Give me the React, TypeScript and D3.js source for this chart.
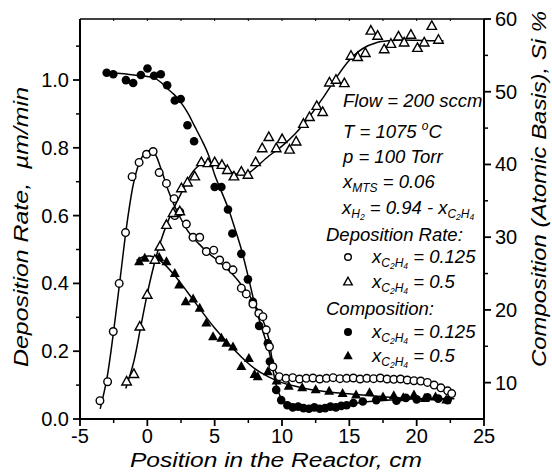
import React from "react";
import * as d3 from "d3";

// ---------- data ----------
// Deposition rate, x_C2H4 = 0.125 (open circles, left axis, µm/min)
const depCircleX = [-3.52,-2.95,-2.53,-2.09,-1.62,-1.13,-0.61,-0.06,0.43,0.88,1.42,1.99,2.04,2.41,2.9,3.39,3.89,4.38,4.93,5.37,5.87,6.36,6.98,7.35,7.84,8.28,8.58,8.83,9.07,9.32,9.8,10.3,10.8,11.3,11.8,12.3,12.8,13.3,13.8,14.3,14.8,15.3,15.8,16.3,16.8,17.3,17.8,18.3,18.8,19.3,19.8,20.3,20.8,21.3,21.8,22.3,22.6];
const depCircleY = [0.054,0.11,0.258,0.40,0.55,0.715,0.757,0.781,0.789,0.727,0.695,0.65,0.60,0.611,0.575,0.536,0.536,0.494,0.498,0.469,0.451,0.44,0.386,0.369,0.339,0.312,0.302,0.263,0.213,0.154,0.125,0.12,0.122,0.118,0.12,0.121,0.118,0.12,0.122,0.119,0.12,0.121,0.118,0.12,0.119,0.121,0.118,0.117,0.118,0.115,0.113,0.112,0.108,0.1,0.092,0.083,0.075];

// Deposition rate, x_C2H4 = 0.5 (open triangles, left axis)
const depTriX = [-1.54,-1.0,-0.56,-0.01,0.56,0.93,1.42,1.91,2.41,2.53,2.98,3.52,4.01,4.5,5.0,5.54,5.94,6.43,6.98,7.47,8.04,8.53,9.02,9.57,10.01,10.56,11.05,11.59,12.04,12.58,13.02,13.52,14.01,14.63,15.12,15.62,16.19,16.6,17.1,17.59,18.09,18.65,19.07,19.57,20.06,20.56,21.12,21.62];
const depTriY = [0.11,0.132,0.272,0.366,0.469,0.508,0.572,0.607,0.612,0.68,0.697,0.715,0.757,0.754,0.757,0.749,0.734,0.715,0.729,0.72,0.757,0.798,0.831,0.798,0.825,0.794,0.818,0.87,0.89,0.923,0.905,0.992,1.0,0.99,1.071,1.067,1.079,1.145,1.13,1.09,1.106,1.128,1.11,1.133,1.094,1.11,1.159,1.118];

// Composition, x_C2H4 = 0.125 (filled circles, right axis, Si %)
const compCircleX = [-3.02,-2.53,-1.59,-1.05,-0.48,0.01,0.5,1.0,1.47,2.04,2.48,2.98,3.47,5.0,5.5,5.99,6.31,6.98,7.47,7.84,8.3,8.95,9.1,9.57,9.94,10.4,10.8,11.2,11.6,12.0,12.4,12.8,13.2,13.6,14.0,14.4,14.8,15.3,16.0,17.0,18.5,19.2,20.0,20.8,21.6,22.3];
const compCircleY = [52.6,52.4,51.6,51.2,52.3,53.2,52.2,52.4,50.9,48.8,49.0,45.4,43.2,36.9,36.9,33.8,30.5,27.7,24.2,21.1,17.8,15.4,12.9,9.0,7.6,6.9,6.6,6.7,6.5,6.4,6.6,6.4,6.5,6.7,6.6,6.8,6.9,7.2,7.4,7.6,7.5,7.9,7.7,8.0,7.8,7.6];

// Composition, x_C2H4 = 0.5 (filled triangles, right axis)
const compTriX = [-0.61,-0.19,0.88,1.42,2.04,2.36,2.85,3.4,3.89,4.38,4.88,5.5,5.87,6.36,6.98,7.54,7.96,8.2,8.95,9.6,10.5,11.5,12.5,13.5,14.5,15.5,16.5,17.5,18.3,19.0,19.8,20.6,21.4,22.2];
const compTriY = [26.6,27.1,27.2,26.6,25.0,23.4,21.1,21.5,20.2,18.2,16.3,16.1,15.4,14.9,12.2,13.3,11.1,10.8,11.5,10.2,9.5,9.3,9.0,8.8,8.5,8.3,8.6,8.0,8.2,7.9,8.3,7.8,8.0,7.6];

// Fitted curves
const fitDepCircleX = [-3.5,-3,-2.5,-2,-1.5,-1,-0.5,0,0.5,1,1.5,2,2.5,3,3.5,4,4.5,5,5.5,6,6.5,7,7.5,8,8.5,9,9.3,9.6,10,11,13,15,17,19,20,21,21.5,22,22.6];
const fitDepCircleY = [0.03,0.12,0.26,0.42,0.58,0.7,0.765,0.79,0.785,0.74,0.68,0.63,0.59,0.555,0.53,0.51,0.49,0.475,0.458,0.44,0.42,0.395,0.37,0.335,0.3,0.24,0.17,0.135,0.124,0.12,0.12,0.12,0.119,0.117,0.113,0.105,0.1,0.092,0.078];
const fitDepTriX = [-1.6,-1,-0.5,0,0.5,1,1.5,2,2.5,3,3.5,4,4.5,5,5.5,6,6.5,7,7.5,8,9,10,11,12,13,14,15,16,17,18,19,20,21,22];
const fitDepTriY = [0.09,0.17,0.27,0.37,0.455,0.525,0.58,0.625,0.665,0.705,0.735,0.752,0.755,0.75,0.742,0.732,0.724,0.72,0.725,0.74,0.775,0.805,0.842,0.89,0.945,1.005,1.058,1.093,1.11,1.116,1.118,1.117,1.116,1.115];
const fitCompCircleX = [-3.2,-2,-1,0,0.5,1,1.5,2,2.5,3,3.5,4,4.5,5,5.5,6,6.5,7,7.5,8,8.5,9,9.3,9.6,10,10.5,11,12,13,14,15,16,18,20,22.8];
const fitCompCircleY = [52.6,52.5,52.3,52.1,51.9,51.3,50.4,49.6,48.5,47.1,45.3,43.5,41.5,38.6,36.3,34.0,31.2,28.2,24.5,20.6,17.5,14.6,12.0,9.5,7.7,7.0,6.7,6.5,6.5,6.7,7.0,7.3,7.6,7.8,7.8];
const fitCompTriX = [-0.8,-0.3,0.2,0.7,1.2,2,3,4,5,6,7,8,9,10,11,12,14,16,18,20,22.6];
const fitCompTriY = [26.8,27.3,27.4,27.1,26.4,24.8,22.4,19.9,17.5,15.4,13.5,11.9,10.8,10.0,9.5,9.1,8.6,8.3,8.0,7.8,7.6];

// Axis ticks
const xTicks = [-5, 0, 5, 10, 15, 20, 25];
const xMinor = [-2.5, 2.5, 7.5, 12.5, 17.5, 22.5];
const yLeftTicks = [0, 0.2, 0.4, 0.6, 0.8, 1.0];
const yLeftMinor = [0.1, 0.3, 0.5, 0.7, 0.9, 1.1];
const yRightTicks = [10, 20, 30, 40, 50, 60];
const yRightMinor = [15, 25, 35, 45, 55];

const FONT = "'Liberation Sans', Arial, Helvetica, sans-serif";

type Seg = { t: string; l: number };
const OFF: Record<number, number> = { 0: 0, 1: 4, 2: 6, [-1]: -8 };
const SZ: Record<number, number> = { 0: 18.5, 1: 12, 2: 8.5, [-1]: 12 };

function Rich({ x, y, segs }: { x: number; y: number; segs: Seg[] }) {
  let cur = 0;
  return (
    <text x={x} y={y} fontFamily={FONT} fontStyle="italic" fontSize={18.5} style={{ whiteSpace: "pre" }}>
      {segs.map((s, i) => {
        const target = OFF[s.l];
        const dy = target - cur;
        cur = target;
        return (
          <tspan key={i} dy={dy} fontSize={SZ[s.l]}>
            {s.t}
          </tspan>
        );
      })}
    </text>
  );
}

const xC2H4: Seg[] = [
  { t: "x", l: 0 },
  { t: "C", l: 1 },
  { t: "2", l: 2 },
  { t: "H", l: 1 },
  { t: "4", l: 2 },
];

function triPath(cx: number, cy: number, s: number) {
  const h = s * 0.9;
  return `M${cx},${cy - h * 0.62}L${cx + s / 2},${cy + h * 0.38}L${cx - s / 2},${cy + h * 0.38}Z`;
}

export default function App() {
  const W = 552, H = 475;
  const x = d3.scaleLinear().domain([-5, 25]).range([80, 484]);
  const yL = d3.scaleLinear().domain([0, 1.18]).range([419, 19]);
  const yR = d3.scaleLinear().domain([5, 60]).range([419, 19]);

  const mk = (xs: number[], ys: number[], ys_: d3.ScaleLinear<number, number>) =>
    d3
      .line<[number, number]>()
      .x((d) => x(d[0]))
      .y((d) => ys_(d[1]))
      .curve(d3.curveCatmullRom.alpha(0.5))(xs.map((v, i) => [v, ys[i]] as [number, number])) || "";

  const paths = [
    mk(fitDepCircleX, fitDepCircleY, yL),
    mk(fitDepTriX, fitDepTriY, yL),
    mk(fitCompCircleX, fitCompCircleY, yR),
    mk(fitCompTriX, fitCompTriY, yR),
  ];

  const sw = 1.4;

  return (
    <svg width={W} height={H} style={{ position: "absolute", left: 0, top: 0, background: "#fff" }}>
      <rect x={0} y={0} width={W} height={H} fill="#fff" />
      {/* frame */}
      <line x1={80} x2={484} y1={19} y2={19} stroke="#000" strokeWidth={1.6} />
      <line x1={80} x2={484} y1={419} y2={419} stroke="#000" strokeWidth={2} />
      <line x1={80} x2={80} y1={19} y2={419} stroke="#000" strokeWidth={2} />
      <line x1={484} x2={484} y1={19} y2={419} stroke="#000" strokeWidth={2} />

      {/* bottom ticks */}
      {xTicks.map((t) => (
        <g key={"xt" + t}>
          <line x1={x(t)} x2={x(t)} y1={419} y2={426} stroke="#000" strokeWidth={1.8} />
          <text x={x(t)} y={443} textAnchor="middle" fontFamily={FONT} fontSize={20}>
            {t < 0 ? "-" + Math.abs(t) : t}
          </text>
        </g>
      ))}
      {xMinor.map((t) => (
        <line key={"xm" + t} x1={x(t)} x2={x(t)} y1={419} y2={423} stroke="#000" strokeWidth={1.5} />
      ))}
      {xMinor.concat(xTicks).map((t) => (
        <line key={"xtop" + t} x1={x(t)} x2={x(t)} y1={19} y2={21} stroke="#000" strokeWidth={1} />
      ))}

      {/* left ticks */}
      {yLeftTicks.map((t) => (
        <g key={"yl" + t}>
          <line x1={73} x2={80} y1={yL(t)} y2={yL(t)} stroke="#000" strokeWidth={1.8} />
          <text x={69} y={yL(t) + 7} textAnchor="end" fontFamily={FONT} fontSize={20}>
            {t.toFixed(1)}
          </text>
        </g>
      ))}
      {yLeftMinor.map((t) => (
        <line key={"ylm" + t} x1={76} x2={80} y1={yL(t)} y2={yL(t)} stroke="#000" strokeWidth={1.5} />
      ))}

      {/* right ticks */}
      {yRightTicks.map((t) => (
        <g key={"yr" + t}>
          <line x1={484} x2={491} y1={yR(t)} y2={yR(t)} stroke="#000" strokeWidth={1.8} />
          <text x={495} y={yR(t) + 7} textAnchor="start" fontFamily={FONT} fontSize={20}>
            {t}
          </text>
        </g>
      ))}
      {yRightMinor.map((t) => (
        <line key={"yrm" + t} x1={484} x2={488} y1={yR(t)} y2={yR(t)} stroke="#000" strokeWidth={1.5} />
      ))}

      {/* axis titles */}
      <text x={276} y={467} textAnchor="middle" fontFamily={FONT} fontStyle="italic" fontSize={20} textLength={292} lengthAdjust="spacingAndGlyphs">
        Position in the Reactor, cm
      </text>
      <text transform="translate(28,227) rotate(-90)" textAnchor="middle" fontFamily={FONT} fontStyle="italic" fontSize={20} textLength={280} lengthAdjust="spacingAndGlyphs" style={{ whiteSpace: "pre" }}>
        {"Deposition Rate,  \u00b5m/min"}
      </text>
      <text transform="translate(546,189) rotate(-90)" textAnchor="middle" fontFamily={FONT} fontStyle="italic" fontSize={20} textLength={356} lengthAdjust="spacingAndGlyphs">
        Composition (Atomic Basis), Si %
      </text>

      {/* fitted curves */}
      {paths.map((p, i) => (
        <path key={"p" + i} d={p} fill="none" stroke="#000" strokeWidth={1.5} />
      ))}

      {/* markers */}
      {compCircleX.map((v, i) => (
        <circle key={"cc" + i} cx={x(v)} cy={yR(compCircleY[i])} r={4.3} fill="#000" />
      ))}
      {compTriX.map((v, i) => (
        <path key={"ct" + i} d={triPath(x(v), yR(compTriY[i]), 10)} fill="#000" />
      ))}
      {depCircleX.map((v, i) => (
        <circle key={"dc" + i} cx={x(v)} cy={yL(depCircleY[i])} r={3.8} fill="#fff" stroke="#000" strokeWidth={sw} />
      ))}
      {depTriX.map((v, i) => (
        <path key={"dt" + i} d={triPath(x(v), yL(depTriY[i]), 9.5)} fill="#fff" stroke="#000" strokeWidth={sw} />
      ))}

      {/* annotation / legend */}
      <Rich x={343} y={107} segs={[{ t: "Flow = 200 sccm", l: 0 }]} />
      <Rich x={343} y={138} segs={[{ t: "T = 1075 ", l: 0 }, { t: "o", l: -1 }, { t: "C", l: 0 }]} />
      <Rich x={343} y={163} segs={[{ t: "p = 100 Torr", l: 0 }]} />
      <Rich x={343} y={188} segs={[{ t: "x", l: 0 }, { t: "MTS", l: 1 }, { t: " = 0.06", l: 0 }]} />
      <Rich
        x={342}
        y={214}
        segs={[{ t: "x", l: 0 }, { t: "H", l: 1 }, { t: "2", l: 2 }, { t: " = 0.94 - ", l: 0 }, ...xC2H4]}
      />
      <Rich x={326} y={241} segs={[{ t: "Deposition Rate:", l: 0 }]} />
      <circle cx={348} cy={257} r={3.3} fill="#fff" stroke="#000" strokeWidth={1.4} />
      <Rich x={372} y={263} segs={[...xC2H4, { t: " = 0.125", l: 0 }]} />
      <path d={triPath(348, 282, 8.5)} fill="#fff" stroke="#000" strokeWidth={1.4} />
      <Rich x={372} y={288} segs={[...xC2H4, { t: " = 0.5", l: 0 }]} />
      <Rich x={326} y={315} segs={[{ t: "Composition:", l: 0 }]} />
      <circle cx={348} cy={332} r={4} fill="#000" />
      <Rich x={372} y={338} segs={[...xC2H4, { t: " = 0.125", l: 0 }]} />
      <path d={triPath(348, 356, 9.5)} fill="#000" />
      <Rich x={372} y={362} segs={[...xC2H4, { t: " = 0.5", l: 0 }]} />
    </svg>
  );
}
